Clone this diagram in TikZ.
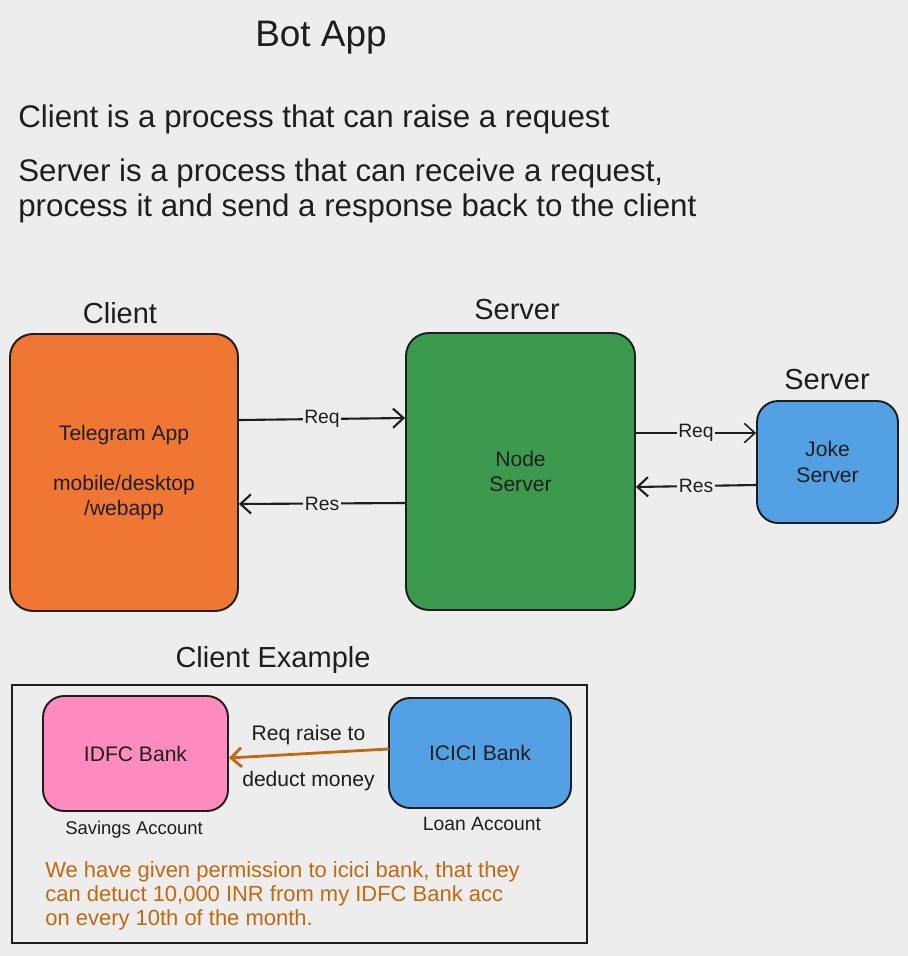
\documentclass[tikz,border=0pt]{standalone}
\usepackage{fontspec}
\setmainfont{Liberation Sans}
\usetikzlibrary{arrows.meta}
\definecolor{sfondo}{HTML}{EDEDED}
\definecolor{inchiostro}{HTML}{1E1E1E}
\definecolor{arancio}{HTML}{F07634}
\definecolor{verde}{HTML}{3C9A4E}
\definecolor{azzurro}{HTML}{53A0E4}
\definecolor{rosa}{HTML}{FF8CBE}
\definecolor{marrone}{HTML}{C4680F}
\tikzset{
	scatola/.style={draw=inchiostro, line width=1.1pt, rounded corners=13pt, align=center, text=inchiostro, font=\fontsize{12}{14.4}\selectfont},
	freccia/.style={draw=inchiostro, line width=1.2pt, line cap=round, -{Straight Barb[length=6pt,width=11pt]}},
	etichetta/.style={fill=sfondo, inner sep=1pt, text=inchiostro, font=\fontsize{11}{13}\selectfont},
	titolo/.style={text=inchiostro, font=\fontsize{16.5}{20}\selectfont},
	testo/.style={text=inchiostro, anchor=west, align=left, inner xsep=0pt, font=\fontsize{17.8}{19.5}\selectfont},
}
\begin{document}
\begin{tikzpicture}[x=0.02cm, y=-0.02cm]
		% Sfondo
		\fill[sfondo] (0,0) rectangle (908,956);
		\useasboundingbox (0,0) rectangle (908,956);
		
		% Titolo e definizioni
		\node[text=inchiostro, font=\fontsize{21}{24}\selectfont] (bot) at (321,38) {Bot App};
		\node[testo] (defclient) at (18,119) {Client is a process that can raise a request};
		\node[testo] (defserver) at (18,191) {Server is a process that can receive a request,\\process it and send a response back to the client};
		
		% Client - Server - Joke Server
		\node[titolo] (lclient) at (120,313) {Client};
		\node[scatola, fill=arancio, minimum width=4.56cm, minimum height=5.54cm] (client) at (124,472.5) {Telegram App\\[14pt]mobile/desktop\\/webapp};
		\node[titolo] (lserver) at (517,310) {Server};
		\node[scatola, fill=verde, minimum width=4.58cm, minimum height=5.54cm] (server) at (520.5,471.5) {Node\\Server};
		\node[titolo] (ljoke) at (827,380) {Server};
		\node[scatola, fill=azzurro, rounded corners=12pt, minimum width=2.82cm, minimum height=2.44cm] (joke) at (827.5,462) {Joke\\Server};
		\draw[freccia] ([yshift=1.05cm]client.east) -- node[etichetta] {Req} ([yshift=1.07cm]server.west);
		\draw[freccia] ([yshift=-0.63cm]server.west) -- node[etichetta] {Res} ([yshift=-0.63cm]client.east);
		\draw[freccia, line width=0.9pt] ([yshift=0.77cm]server.east) -- node[etichetta] {Req} ([yshift=0.58cm]joke.west);
		\draw[freccia] ([yshift=-0.46cm]joke.west) -- node[etichetta] {Res} ([yshift=-0.31cm]server.east);
		
		% Esempio di client
		\node[titolo] (lesempio) at (273,660) {Client Example};
		\draw[inchiostro, line width=1.3pt] (12,685) rectangle (587,943);
		\node[scatola, fill=rosa, rounded corners=12pt, minimum width=3.7cm, minimum height=2.3cm] (idfc) at (135.5,753.5) {IDFC Bank};
		\node[scatola, fill=azzurro, rounded corners=12pt, minimum width=3.64cm, minimum height=2.2cm] (icici) at (480,753) {ICICI Bank};
		\draw[freccia, draw=marrone, line width=1.6pt] ([yshift=0.08cm]icici.west) -- node[text=inchiostro, above=1pt, font=\fontsize{12}{14}\selectfont] {Req raise to} node[text=inchiostro, below=6pt, font=\fontsize{12}{14}\selectfont] {deduct money} ([yshift=-0.09cm]idfc.east);
		\node[text=inchiostro, font=\fontsize{10.5}{13}\selectfont] (savings) at (134,830) {Savings Account};
		\node[text=inchiostro, font=\fontsize{11}{13}\selectfont] (loan) at (482,824) {Loan Account};
		\node[text=marrone, anchor=west, align=left, inner xsep=0pt, font=\fontsize{12.5}{13.6}\selectfont] (nota) at (45,896) {We have given permission to icici bank, that they\\can detuct 10,000 INR from my IDFC Bank acc\\on every 10th of the month.};
	\end{tikzpicture}
\end{document}
